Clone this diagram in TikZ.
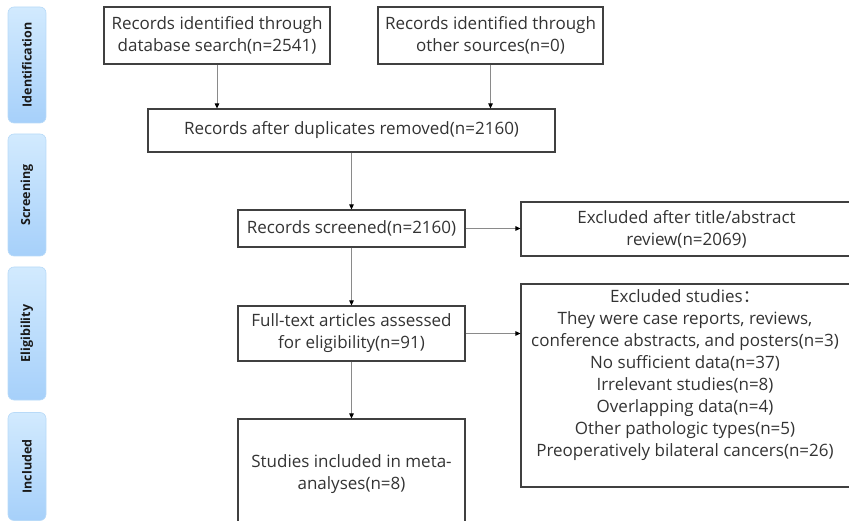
\documentclass[tikz,border=0pt]{standalone}
\usepackage{fontspec}
\setmainfont{Open Sans}
\newfontfamily\cjk{Noto Sans CJK SC}
\usetikzlibrary{arrows.meta}
\definecolor{boxline}{HTML}{404040}
\definecolor{arrline}{HTML}{8A8A8A}
\definecolor{sidetop}{HTML}{D2EAFE}
\definecolor{sidebot}{HTML}{A6D0FA}
\definecolor{sideline}{HTML}{B8DAF8}
\begin{document}
\begin{tikzpicture}[x=1pt,y=-1pt,
  box/.style={draw=boxline, line width=1.1pt, align=center, inner sep=0pt,
    font=\fontsize{17}{22}\selectfont, text=black!80},
  txt/.style={align=center, inner sep=0pt, font=\fontsize{17}{22}\selectfont, text=black!80},
  side/.style={draw=sideline, line width=0.6pt, rounded corners=6pt, top color=sidetop, bottom color=sidebot,
    minimum width=38pt, inner sep=0pt},
  sidetext/.style={rotate=90, font=\fontsize{12.5}{14}\selectfont\bfseries, text=black!90},
  arr/.style={draw=arrline, line width=0.9pt, -{Triangle[length=5pt,width=4.5pt,color=black]}}
]
\useasboundingbox (0,0) rectangle (849,521);
\clip (0,0) rectangle (849,521);

% side labels
\node[side, minimum height=116pt] (sid) at (27,65) {};
\node[sidetext] (sidt) at (sid.center) {Identification};
\node[side, minimum height=122pt] (sscr) at (27,195) {};
\node[sidetext] (sscrt) at (sscr.center) {Screening};
\node[side, minimum height=133pt] (sel) at (27,333.5) {};
\node[sidetext] (selt) at (sel.center) {Eligibility};
\node[side, minimum height=108pt] (sinc) at (27,466.5) {};
\node[sidetext] (sinct) at (sinc.center) {Included};

% boxes
\node[box, minimum width=226pt, minimum height=57pt] (b1) at (217,35.5)
  {Records identified through\\database search(n=2541)};
\node[box, minimum width=225pt, minimum height=57pt] (b2) at (490.5,35.5)
  {Records identified through\\other sources(n=0)};
\node[box, minimum width=407pt, minimum height=43pt] (b3) at (351.5,130.5)
  {Records after duplicates removed(n=2160)};
\node[box, minimum width=227pt, minimum height=37pt] (b4) at (351.5,228.5)
  {Records screened(n=2160)};
\node[box, minimum width=331pt, minimum height=54pt] (b5) at (686.5,229)
  {Excluded after title/abstract\\review(n=2069)};
\node[box, minimum width=227pt, minimum height=55pt] (b6) at (351.5,333.5)
  {Full-text articles assessed\\for eligibility(n=91)};
\node[box, minimum width=331pt, minimum height=203pt] (b7) at (686.5,385.5) {};
\node[txt] (b7t) at (685,375)
  {Excluded studies{\cjk ：}\\
   They were case reports, reviews,\\
   conference abstracts, and posters(n=3)\\
   No sufficient data(n=37)\\
   Irrelevant studies(n=8)\\
   Overlapping data(n=4)\\
   Other pathologic types(n=5)\\
   Preoperatively bilateral cancers(n=26)};
\node[box, minimum width=227pt, minimum height=111pt] (b8) at (351.5,474.5)
  {Studies included in meta-\\analyses(n=8)};

% connectors
\draw[arr] (b1.south) -- (b1.south |- b3.north);
\draw[arr] (b2.south) -- (b2.south |- b3.north);
\draw[arr] (b3.south) -- (b4.north);
\draw[arr] (b4.east) -- (b4.east -| b5.west);
\draw[arr] (b4.south) -- (b6.north);
\draw[arr] (b6.east) -- (b6.east -| b7.west);
\draw[arr] (b6.south) -- (b8.north);
\end{tikzpicture}
\end{document}
